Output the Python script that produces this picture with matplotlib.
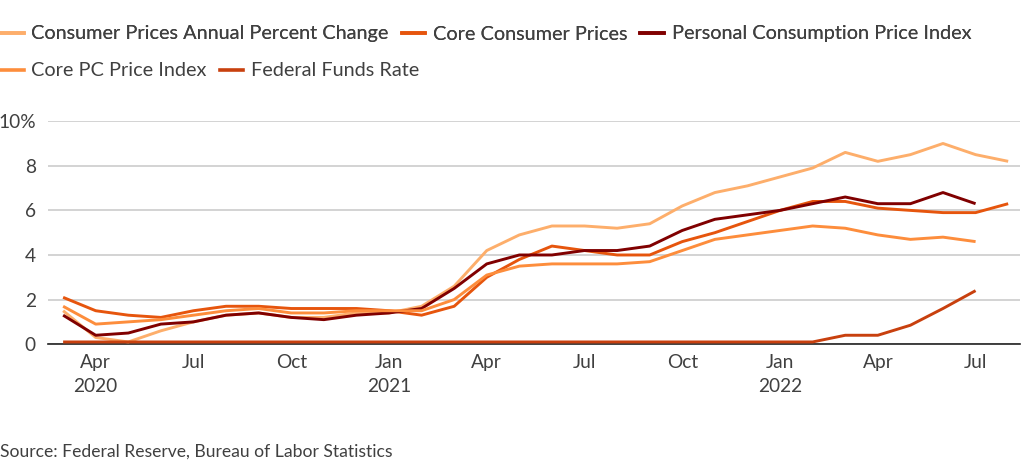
import matplotlib
matplotlib.use("Agg")
import matplotlib.pyplot as plt
from matplotlib.lines import Line2D

plt.rcParams['font.family'] = ['Lato', 'DejaVu Sans']

# Monthly data, Mar 2020 .. Aug 2022
months = list(range(30))
cpi = [1.5, 0.3, 0.1, 0.6, 1.0, 1.3, 1.4, 1.2, 1.2, 1.4, 1.4, 1.7, 2.6, 4.2, 4.9,
       5.3, 5.3, 5.2, 5.4, 6.2, 6.8, 7.1, 7.5, 7.9, 8.6, 8.2, 8.5, 9.0, 8.5, 8.2]
core_cpi = [2.1, 1.5, 1.3, 1.2, 1.5, 1.7, 1.7, 1.6, 1.6, 1.6, 1.5, 1.3, 1.7, 3.0, 3.8,
            4.4, 4.2, 4.0, 4.0, 4.6, 5.0, 5.5, 6.0, 6.4, 6.4, 6.1, 6.0, 5.9, 5.9, 6.3]
pce = [1.3, 0.4, 0.5, 0.9, 1.0, 1.3, 1.4, 1.2, 1.1, 1.3, 1.4, 1.6, 2.5, 3.6, 4.0,
       4.0, 4.2, 4.2, 4.4, 5.1, 5.6, 5.8, 6.0, 6.3, 6.6, 6.3, 6.3, 6.8, 6.3]
core_pce = [1.7, 0.9, 1.0, 1.1, 1.3, 1.5, 1.6, 1.4, 1.4, 1.5, 1.5, 1.5, 2.0, 3.1, 3.5,
            3.6, 3.6, 3.6, 3.7, 4.2, 4.7, 4.9, 5.1, 5.3, 5.2, 4.9, 4.7, 4.8, 4.6]
fed_funds = [0.1] * 24 + [0.4, 0.4, 0.85, 1.6, 2.4]

tick_pos = [1, 4, 7, 10, 13, 16, 19, 22, 25, 28]
tick_labels = ["Apr\n2020", "Jul", "Oct", "Jan\n2021", "Apr", "Jul", "Oct",
               "Jan\n2022", "Apr", "Jul"]

series = [
    ("Consumer Prices Annual Percent Change", cpi, '#fdae6b'),
    ("Core Consumer Prices", core_cpi, '#e6550d'),
    ("Personal Consumption Price Index", pce, '#800000'),
    ("Core PC Price Index", core_pce, '#fd8d3c'),
    ("Federal Funds Rate", fed_funds, '#c8400e'),
]

text_color = '#404040'

fig = plt.figure(figsize=(10.24, 4.67), dpi=100)
ax = fig.add_axes([0.047, 0.263, 0.949, 0.4775])

for name, vals, col in series:
    ax.plot(months[:len(vals)], vals, color=col, lw=2.1, solid_joinstyle='round',
            solid_capstyle='butt', zorder=3)

ax.set_xlim(-0.46, 29.36)
ax.set_ylim(0, 10)
ax.set_yticks([0, 2, 4, 6, 8, 10])
ax.set_yticklabels(['0', '2', '4', '6', '8', '10%'])
ax.set_xticks(tick_pos)
ax.set_xticklabels(tick_labels, linespacing=1.5)
ax.tick_params(axis='both', length=0, labelsize=13.8, labelcolor=text_color)
ax.tick_params(axis='x', pad=7)
ax.tick_params(axis='y', pad=9)
for lab in ax.get_yticklabels():
    lab.set_horizontalalignment('right')
for lab in ax.get_xticklabels():
    lab.set_verticalalignment('top')

ax.grid(axis='y', color='#cccccc', lw=1.2)
ax.set_axisbelow(True)
for s in ['top', 'right', 'left']:
    ax.spines[s].set_visible(False)
ax.spines['bottom'].set_color('#222222')
ax.spines['bottom'].set_linewidth(1.2)
ax.spines['bottom'].set_zorder(2)

# two legend rows
def legend_row(items, y):
    handles = [Line2D([0], [0], color=c, lw=2.6) for _, _, c in items]
    labels = [n for n, _, _ in items]
    leg = fig.legend(handles, labels, loc='center left', bbox_to_anchor=(0.0, y),
                     ncol=len(items), frameon=False, fontsize=14.3,
                     handlelength=1.2, handletextpad=0.38, columnspacing=0.65,
                     labelcolor=text_color, borderaxespad=0, borderpad=0)
    return leg

leg1 = legend_row(series[:3], 1 - 34 / 467)
fig.add_artist(leg1)
legend_row(series[3:], 1 - 71 / 467)

fig.text(0.0, 1 - 452 / 467, "Source: Federal Reserve, Bureau of Labor Statistics",
         fontsize=12.6, color=text_color, va='center', ha='left')

fig.savefig("out.png", dpi=100, facecolor='white')
